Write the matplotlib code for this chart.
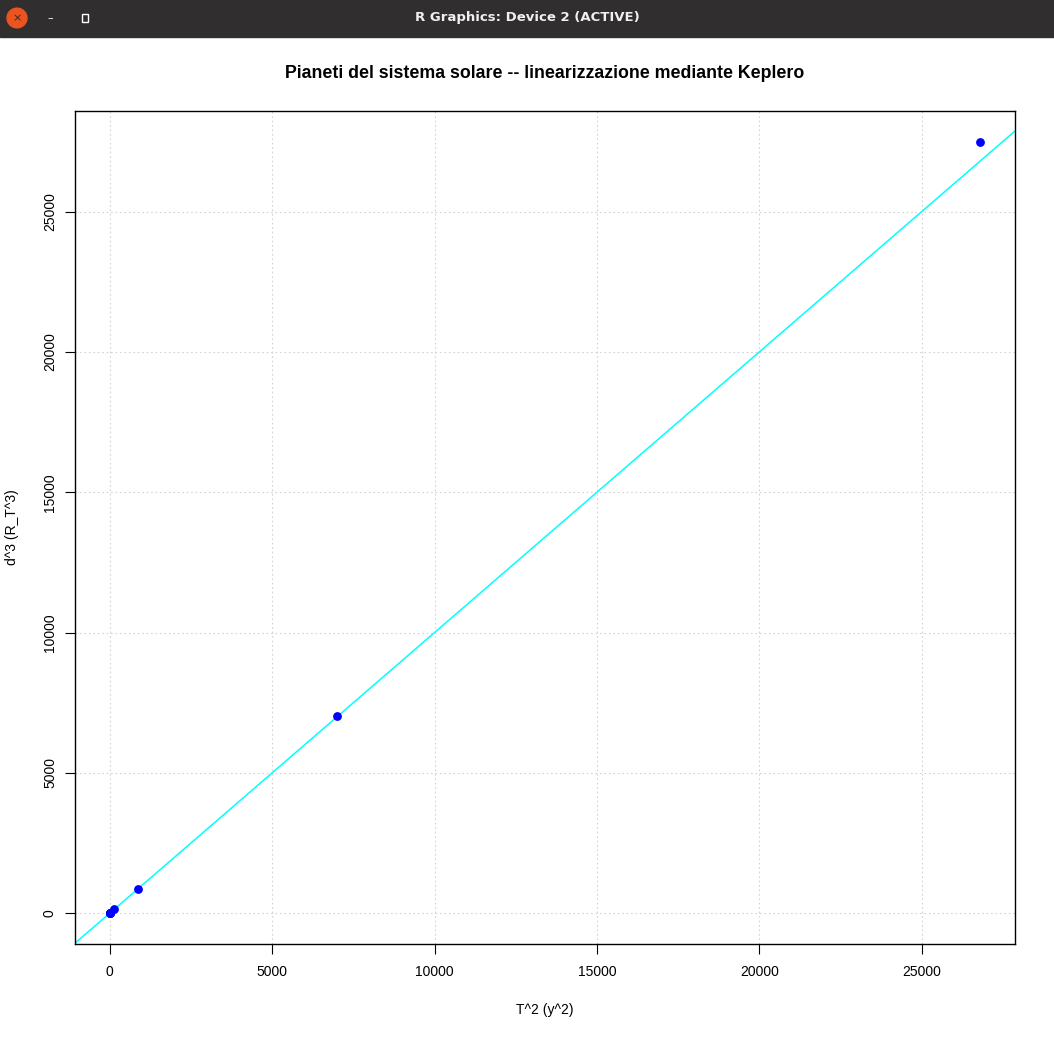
import numpy as np
import matplotlib.pyplot as plt
from matplotlib.patches import Rectangle, Circle

plt.rcParams['font.family'] = ['Liberation Sans', 'DejaVu Sans']

# planets: T^2 (years^2) and d^3 (AU^3)
pianeti = ["Mercurio", "Venere", "Terra", "Marte", "Giove", "Saturno", "Urano", "Nettuno"]
T2 = [0.058, 0.378, 1.0, 3.54, 140.7, 867.0, 7012.0, 26805.0]
d3 = [0.058, 0.378, 1.0, 3.54, 140.6, 858.0, 7028.0, 27490.0]

# reference line y = a + b x
a_line = 0.0
b_line = 1.0

W, H = 1054, 1038
fig = plt.figure(figsize=(W / 100, H / 100), dpi=100)

# window title bar
bar_h = 37
fig.patches.append(Rectangle((0, 1 - bar_h / H), 1, bar_h / H, transform=fig.transFigure,
                             color="#302e2e", zorder=0))
fig.patches.append(Circle((17 / W, 1 - 18 / H), 10 / W, transform=fig.transFigure,
                          color="#e95420", zorder=1))
fig.text(17 / W, 1 - 18 / H, "×", color="#502010", ha="center", va="center", fontsize=8,
         family="DejaVu Sans")
fig.text(50 / W, 1 - 18 / H, "–", color="white", ha="center", va="center", fontsize=8,
         family="DejaVu Sans")
fig.patches.append(Rectangle((82 / W, 1 - 22 / H), 6 / W, 8 / H, transform=fig.transFigure,
                             fill=False, edgecolor="white", lw=1))
fig.text(527 / W, 1 - 18 / H, "R Graphics: Device 2 (ACTIVE)", color="#f0f0f0",
         ha="center", va="center", fontsize=9.5, fontweight="bold", family="DejaVu Sans")

left, right, top, bottom = 75, 1015, 111, 944
ax = fig.add_axes([left / W, 1 - bottom / H, (right - left) / W, (bottom - top) / H])

ax.scatter(T2, d3, s=40, color="blue", zorder=3, linewidths=0)
ax.axline((0, a_line), slope=b_line, color="cyan", lw=1.1, zorder=2)

xr = max(T2) - min(T2)
yr = max(d3) - min(d3)
ax.set_xlim(min(T2) - 0.04 * xr, max(T2) + 0.04 * xr)
ax.set_ylim(min(d3) - 0.04 * yr, max(d3) + 0.04 * yr)

ticks = [0, 5000, 10000, 15000, 20000, 25000]
ax.set_xticks(ticks)
ax.set_yticks(ticks)
ax.set_xticklabels([str(t) for t in ticks])
ax.set_yticklabels([str(t) for t in ticks], rotation=90, va="center")
ax.tick_params(direction="out", length=7, width=0.8, labelsize=10)
ax.tick_params(axis="x", pad=8)
ax.tick_params(axis="y", pad=6)
ax.grid(True, color="lightgray", linestyle=(0, (1.5, 2.5)), lw=0.8)
ax.set_axisbelow(True)
for s in ax.spines.values():
    s.set_linewidth(1.0)

fig.text(545 / W, 1 - 1010 / H, "T^2 (y^2)", ha="center", va="center", fontsize=10)
fig.text(12 / W, 1 - 527 / H, "d^3 (R_T^3)", ha="center", va="center", fontsize=10,
         rotation=90)
fig.text(545 / W, 1 - 74 / H, "Pianeti del sistema solare -- linearizzazione mediante Keplero",
         ha="center", va="center", fontsize=12.8, fontweight="bold")

fig.savefig("out.png", dpi=100)
